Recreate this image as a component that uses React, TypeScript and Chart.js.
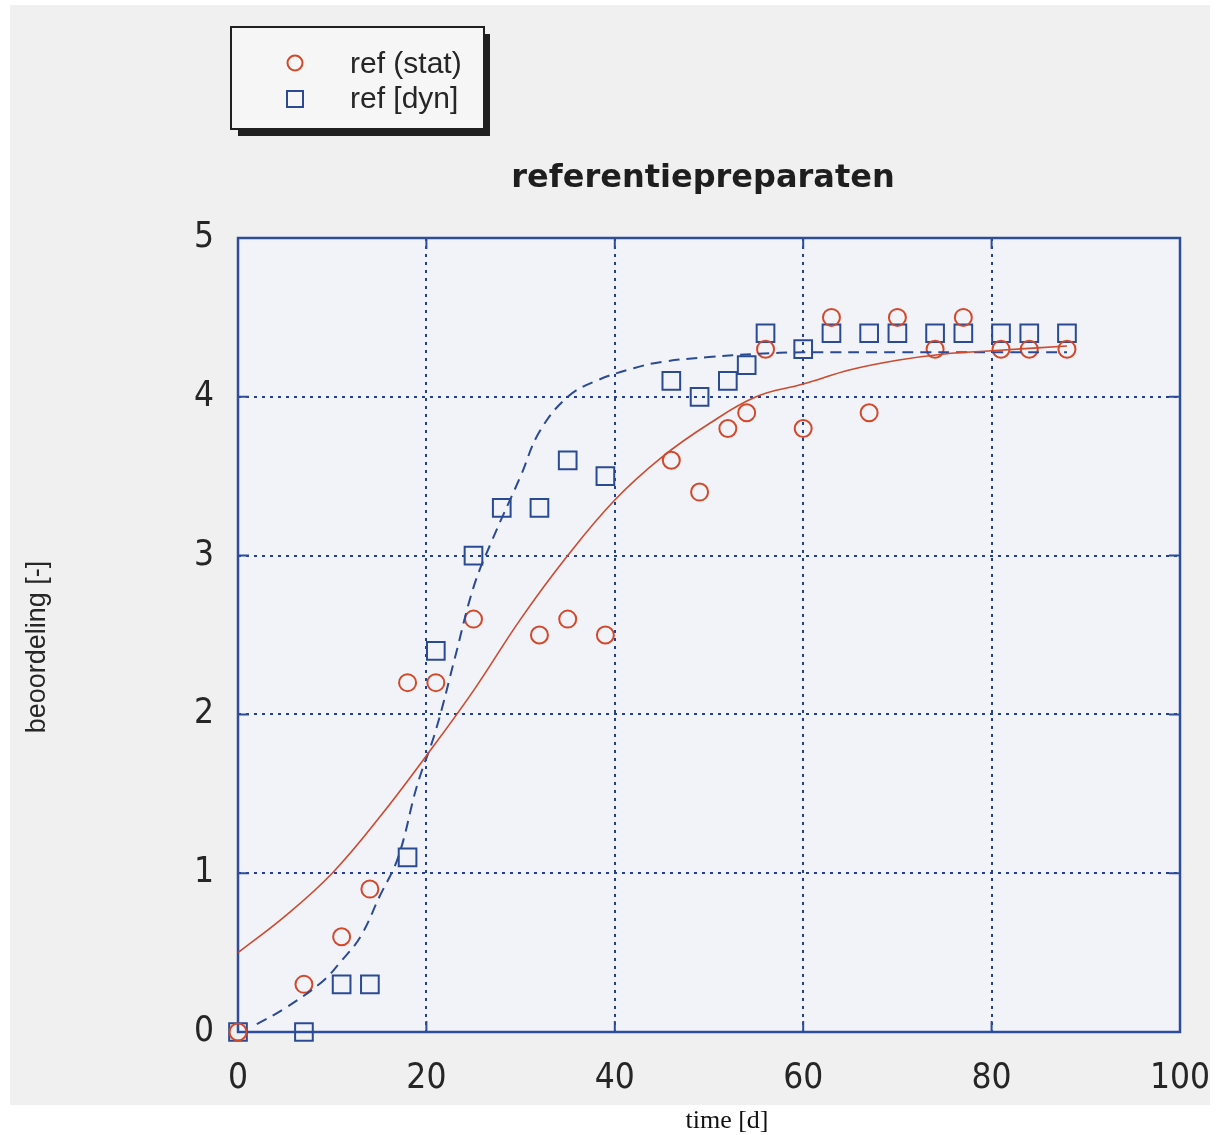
import React, { useEffect, useRef } from "react";
import { Chart, registerables } from "chart.js";

Chart.register(...registerables);

// ---- data ----
const xTicks = [0, 20, 40, 60, 80, 100];
const yTicks = [0, 1, 2, 3, 4, 5];

const statDays = [0, 7, 11, 14, 18, 21, 25, 32, 35, 39, 46, 49, 52, 54, 56, 60, 63, 67, 70, 74, 77, 81, 84, 88];
const statScores = [0, 0.3, 0.6, 0.9, 2.2, 2.2, 2.6, 2.5, 2.6, 2.5, 3.6, 3.4, 3.8, 3.9, 4.3, 3.8, 4.5, 3.9, 4.5, 4.3, 4.5, 4.3, 4.3, 4.3];

const dynDays = [0, 7, 11, 14, 18, 21, 25, 28, 32, 35, 39, 46, 49, 52, 54, 56, 60, 63, 67, 70, 74, 77, 81, 84, 88];
const dynScores = [0, 0, 0.3, 0.3, 1.1, 2.4, 3.0, 3.3, 3.3, 3.6, 3.5, 4.1, 4.0, 4.1, 4.2, 4.4, 4.3, 4.4, 4.4, 4.4, 4.4, 4.4, 4.4, 4.4, 4.4];

const statFitDays = [0, 5, 10, 15, 20, 25, 30, 35, 40, 45, 50, 55, 60, 65, 70, 75, 80, 88];
const statFitScores = [0.5, 0.73, 1.0, 1.35, 1.74, 2.15, 2.6, 3.0, 3.35, 3.62, 3.83, 4.0, 4.08, 4.17, 4.23, 4.27, 4.29, 4.32];

const dynFitDays = [2, 5, 9, 11, 13, 15, 17, 19, 21, 23, 25, 27, 30, 32, 35, 38, 42, 45, 50, 55, 60, 70, 80, 88];
const dynFitScores = [0.05, 0.15, 0.32, 0.45, 0.6, 0.85, 1.1, 1.55, 1.9, 2.35, 2.8, 3.1, 3.5, 3.78, 4.0, 4.1, 4.18, 4.22, 4.25, 4.27, 4.28, 4.28, 4.28, 4.28];

const legendLabels = ["ref (stat)", "ref [dyn]"];
const titleText = "referentiepreparaten";
const xTitle = "time [d]";
const yTitle = "beoordeling [-]";

// ---- styles ----
const W = 1216;
const H = 1135;
const RED = "#d4482a";
const RED_LINE = "#cc4a2e";
const BLUE = "#2b4a94";
const GRID = "#22408e";
const FRAME = "#2d4c9c";
const PAGE_BG = "#f0f0f0";
const PLOT_BG = "#f1f3f8";
const TEXT = "#262626";
const NARROW = "'Liberation Sans Narrow', 'DejaVu Sans Condensed', 'Liberation Sans', Arial, sans-serif";

const zip = (xs: number[], ys: number[]) => xs.map((x, i) => ({ x, y: ys[i] }));

const decor = {
  id: "decor",
  beforeDraw(chart: any) {
    const { ctx, chartArea: a } = chart;
    ctx.save();
    ctx.fillStyle = "#ffffff";
    ctx.fillRect(0, 0, W, H);
    ctx.fillStyle = PAGE_BG;
    ctx.fillRect(10, 5, 1200, 1100);
    ctx.fillStyle = PLOT_BG;
    ctx.fillRect(a.left, a.top, a.right - a.left, a.bottom - a.top);
    ctx.restore();
  },
  beforeDatasetsDraw(chart: any) {
    const { ctx, chartArea: a, scales } = chart;
    ctx.save();
    ctx.strokeStyle = FRAME;
    ctx.lineWidth = 2.5;
    ctx.setLineDash([]);
    ctx.strokeRect(a.left, a.top, a.right - a.left, a.bottom - a.top);
    const tl = 11;
    ctx.lineWidth = 2;
    ctx.beginPath();
    xTicks.forEach((v) => {
      const px = scales.x.getPixelForValue(v);
      ctx.moveTo(px, a.bottom);
      ctx.lineTo(px, a.bottom - tl);
      ctx.moveTo(px, a.top);
      ctx.lineTo(px, a.top + tl);
    });
    yTicks.forEach((v) => {
      const py = scales.y.getPixelForValue(v);
      ctx.moveTo(a.left, py);
      ctx.lineTo(a.left + tl, py);
      ctx.moveTo(a.right, py);
      ctx.lineTo(a.right - tl, py);
    });
    ctx.stroke();
    ctx.restore();
  },
  afterDraw(chart: any) {
    const { ctx } = chart;
    ctx.save();
    // title
    ctx.fillStyle = "#1e1e1e";
    ctx.font = "bold 32px 'DejaVu Sans', 'Liberation Sans', sans-serif";
    ctx.textAlign = "center";
    ctx.textBaseline = "middle";
    ctx.fillText(titleText, 703, 179);

    // y axis title
    ctx.save();
    ctx.translate(38, 647);
    ctx.rotate(-Math.PI / 2);
    ctx.font = "27px 'Liberation Sans', Arial, sans-serif";
    ctx.fillStyle = TEXT;
    ctx.fillText(yTitle, 0, 0);
    ctx.restore();

    // x axis title
    ctx.font = "26px 'Liberation Serif', 'Times New Roman', serif";
    ctx.fillStyle = "#111";
    ctx.fillText(xTitle, 727, 1121);

    // legend box
    ctx.fillStyle = "#202020";
    ctx.fillRect(238, 34, 252, 102);
    ctx.fillStyle = "#f6f6f6";
    ctx.fillRect(231, 27, 253, 102);
    ctx.strokeStyle = "#202020";
    ctx.lineWidth = 2;
    ctx.strokeRect(231, 27, 253, 102);

    // legend markers
    ctx.lineWidth = 2;
    ctx.strokeStyle = RED;
    ctx.beginPath();
    ctx.arc(295, 63, 7.5, 0, Math.PI * 2);
    ctx.stroke();
    ctx.strokeStyle = BLUE;
    ctx.strokeRect(295 - 8, 99 - 8, 16, 16);

    // legend text
    ctx.textAlign = "left";
    ctx.font = "30px 'Liberation Sans', Arial, sans-serif";
    ctx.fillStyle = TEXT;
    ctx.fillText(legendLabels[0], 350, 65);
    ctx.fillText(legendLabels[1], 350, 100);
    ctx.restore();
  },
};

export default function App() {
  const ref = useRef<HTMLCanvasElement | null>(null);

  useEffect(() => {
    document.body.style.margin = "0";
    const canvas = ref.current;
    if (!canvas) return;
    const chart = new Chart(canvas, {
      type: "scatter",
      data: {
        datasets: [
          {
            label: "fit stat",
            data: zip(statFitDays, statFitScores),
            showLine: true,
            borderColor: RED_LINE,
            borderWidth: 1.6,
            pointRadius: 0,
            tension: 0.4,
            fill: false,
          },
          {
            label: "fit dyn",
            data: zip(dynFitDays, dynFitScores),
            showLine: true,
            borderColor: BLUE,
            borderWidth: 2,
            borderDash: [11, 7],
            pointRadius: 0,
            tension: 0.4,
            fill: false,
          },
          {
            label: legendLabels[0],
            data: zip(statDays, statScores),
            showLine: false,
            clip: false,
            pointStyle: "circle",
            pointRadius: 8.5,
            pointBorderWidth: 2,
            pointBorderColor: RED,
            pointBackgroundColor: "rgba(0,0,0,0)",
          },
          {
            label: legendLabels[1],
            data: zip(dynDays, dynScores),
            showLine: false,
            clip: false,
            pointStyle: "rect",
            pointRadius: 12.5,
            pointBorderWidth: 2,
            pointBorderColor: BLUE,
            pointBackgroundColor: "rgba(0,0,0,0)",
          },
        ],
      },
      options: {
        animation: false,
        responsive: false,
        maintainAspectRatio: false,
        layout: { padding: { top: 238, right: 36, bottom: 0, left: 0 } },
        plugins: {
          legend: { display: false },
          title: { display: false },
          tooltip: { enabled: false },
        },
        scales: {
          x: {
            type: "linear",
            min: 0,
            max: 100,
            afterBuildTicks: (s: any) => {
              s.ticks = xTicks.map((v) => ({ value: v }));
            },
            afterFit: (s: any) => {
              s.height = H - 1032;
              s.paddingRight = 0;
              s.paddingLeft = 0;
            },
            grid: { color: GRID, lineWidth: 2, drawTicks: false },
            border: { display: false, dash: [3, 5] },
            ticks: {
              color: TEXT,
              font: { family: NARROW, size: 35 },
              padding: 26,
              maxRotation: 0,
            },
          },
          y: {
            type: "linear",
            min: 0,
            max: 5,
            afterBuildTicks: (s: any) => {
              s.ticks = yTicks.map((v) => ({ value: v }));
            },
            afterFit: (s: any) => {
              s.width = 238;
              s.paddingTop = 0;
              s.paddingBottom = 0;
            },
            grid: { color: GRID, lineWidth: 2, drawTicks: false },
            border: { display: false, dash: [3, 5] },
            ticks: {
              color: TEXT,
              font: { family: NARROW, size: 35 },
              padding: 24,
            },
          },
        },
      },
      plugins: [decor],
    } as any);
    return () => chart.destroy();
  }, []);

  return (
    <div style={{ position: "fixed", left: 0, top: 0, width: W, height: H }}>
      <canvas ref={ref} width={W} height={H} style={{ display: "block", width: W, height: H }} />
    </div>
  );
}
